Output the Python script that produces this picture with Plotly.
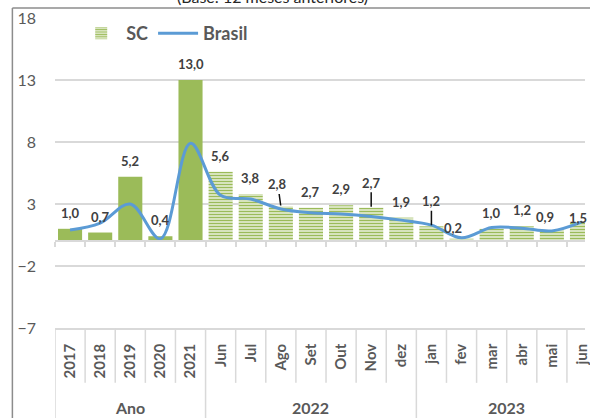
import plotly.graph_objects as go

# ---- data ----
groups = ["Ano"] * 5 + ["2022"] * 7 + ["2023"] * 6
periods = ["2017", "2018", "2019", "2020", "2021",
           "Jun", "Jul", "Ago", "Set", "Out", "Nov", "dez",
           "jan", "fev", "mar", "abr", "mai", "jun"]
sc_values = [1.0, 0.7, 5.2, 0.4, 13.0, 5.6, 3.8, 2.8, 2.7, 2.9, 2.7, 1.9,
             1.2, 0.2, 1.0, 1.2, 0.9, 1.5]
brasil_values = [0.9, 1.45, 3.0, 0.2, 7.9, 3.7, 3.4, 2.6, 2.3, 2.2, 2.0, 1.7,
                 1.3, 0.27, 1.1, 1.05, 0.83, 1.55]
y_ticks = [-7, -2, 3, 8, 13, 18]
title_text = "(Base: 12 meses anteriores)"

GREEN = "#9bbb59"
BLUE = "#5b9bd5"
GRID = "#d9d9d9"
AXTXT = "#595959"
FONT = "Lato"

n = len(periods)
x_range = [-0.5, n - 0.9]

fig = go.Figure()

shapes_pattern = ["" if g == "Ano" else "-" for g in groups]
fig.add_trace(go.Bar(
    x=periods, y=sc_values, name="<b>SC</b>", showlegend=False, legendgroup="sc",
    width=0.8,
    marker=dict(color=GREEN, line_width=0,
                pattern=dict(shape=shapes_pattern, fgcolor=GREEN, bgcolor="white",
                             size=3, solidity=0.6, fillmode="replace")),
))
# legend entry for SC (striped swatch as in the original)
fig.add_trace(go.Bar(
    x=[None], y=[None], name="<b>SC</b>", legendgroup="sc", hoverinfo="skip",
    marker=dict(color=GREEN, line_width=0,
                pattern=dict(shape="-", fgcolor=GREEN, bgcolor="white",
                             size=3, solidity=0.6, fillmode="replace")),
))
fig.add_trace(go.Scatter(
    x=periods, y=brasil_values, name="<b>Brasil</b>", mode="lines",
    line=dict(color=BLUE, width=3, shape="spline", smoothing=1.0),
))
# helper trace so the overlay index axis is built
fig.add_trace(go.Scatter(x=[None], y=[None], xaxis="x2", showlegend=False,
                         hoverinfo="skip", mode="markers"))

# value labels
label_style = {7: (22, -3, True), 10: (25, 0, True), 12: (25, 0, True),
               13: (11, -9, False), 16: (13, -7, False), 17: (5, -4, False)}
annotations = []
for i, v in enumerate(sc_values):
    dy, dx, leader = label_style.get(i, (16, 0, False))
    txt = f"{v:.1f}".replace(".", ",")
    if leader:
        annotations.append(dict(
            x=i, y=v, xref="x2", yref="y", text=txt, showarrow=True,
            arrowhead=0, arrowwidth=1.5, arrowcolor="#111111", standoff=1,
            ax=dx, ay=-dy, axref="pixel", ayref="pixel",
            font=dict(family=FONT, size=13, color="#404040", weight="bold")))
    else:
        annotations.append(dict(
            x=i, y=v, xref="x2", yref="y", text=txt, showarrow=False,
            yshift=dy, xshift=dx,
            font=dict(family=FONT, size=13, color="#404040", weight="bold")))

# group labels of the category axis
group_names = []
for g in groups:
    if g not in group_names:
        group_names.append(g)
for g in group_names:
    idx = [i for i, gg in enumerate(groups) if gg == g]
    annotations.append(dict(
        x=(idx[0] + idx[-1]) / 2, y=-0.258, xref="x2", yref="paper", text=g,
        showarrow=False, xanchor="center", yanchor="middle",
        font=dict(family=FONT, size=16, color=AXTXT, weight="bold")))

annotations.append(dict(
    x=0.411, y=1.068, xref="paper", yref="paper", text=title_text,
    showarrow=False, xanchor="center", yanchor="middle",
    font=dict(family=FONT, size=16, color="#262626")))

# separators in the category label area
shapes = []
group_edges = [-0.5]
for i in range(1, n):
    if groups[i] != groups[i - 1]:
        group_edges.append(i - 0.5)
for i in range(n):
    b = i - 0.5
    full = b in group_edges
    shapes.append(dict(type="line", xref="x2", yref="paper", x0=b, x1=b,
                       y0=0, y1=-0.30 if full else -0.177,
                       line=dict(color=GRID, width=1.5)))
# outer frame
shapes.append(dict(type="line", xref="paper", yref="paper", x0=-0.0804, x1=1.01,
                   y0=1.0323, y1=1.0323, line=dict(color="#8c8c8c", width=1.5)))
shapes.append(dict(type="line", xref="paper", yref="paper", x0=-0.0804, x1=-0.0804,
                   y0=1.0323, y1=-0.30, line=dict(color="#8c8c8c", width=1.5)))

fig.update_layout(
    width=590, height=418,
    margin=dict(l=55, r=0, t=18, b=90),
    paper_bgcolor="white", plot_bgcolor="white",
    font=dict(family=FONT, color=AXTXT),
    showlegend=True,
    legend=dict(orientation="h", x=0.04, y=0.95, xanchor="left", yanchor="middle",
                font=dict(family=FONT, size=18, color=AXTXT),
                bgcolor="rgba(0,0,0,0)", itemwidth=40, traceorder="normal"),
    bargap=0.2, barmode="overlay",
    yaxis=dict(range=[-7, 18], tickvals=y_ticks, showgrid=True, gridcolor=GRID,
               gridwidth=1.5, zeroline=False, showline=False, ticks="",
               ticklabelstandoff=18,
               tickfont=dict(family=FONT, size=16, color=AXTXT)),
    xaxis=dict(type="category", range=x_range, showline=True, linecolor=GRID,
               linewidth=1.5, ticks="", showgrid=False, tickangle=-90,
               ticklabelstandoff=8,
               tickfont=dict(family=FONT, size=15, color=AXTXT, weight="bold")),
    xaxis2=dict(overlaying="x", anchor="free", position=7 / 25, range=x_range,
                tickvals=[i - 0.5 for i in range(n + 1)], ticks="outside",
                ticklen=5, tickwidth=1.5, tickcolor=GRID, showticklabels=False,
                showline=True, linecolor=GRID, linewidth=1.5, showgrid=False,
                zeroline=False),
    annotations=annotations,
    shapes=shapes,
)

fig.write_html("out.html", config={"displayModeBar": False},
               post_script="document.body.style.margin='0';")
